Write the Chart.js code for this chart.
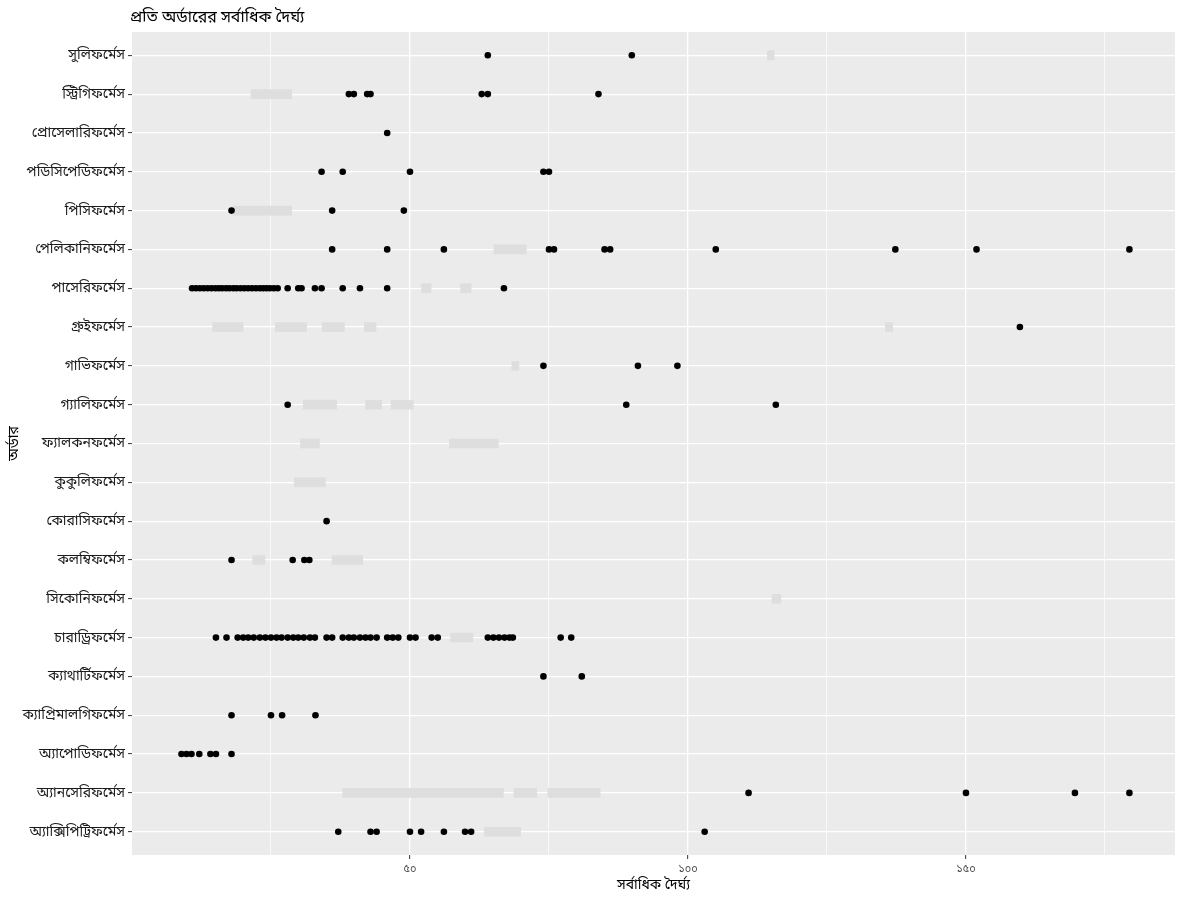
<!DOCTYPE html>
<html>
<head>
<meta charset="utf-8">
<title>প্রতি অর্ডারের সর্বাধিক দৈর্ঘ্য</title>
<script src="https://cdn.jsdelivr.net/npm/chart.js@4.4.1/dist/chart.umd.min.js"></script>
<style>
  html, body { margin: 0; padding: 0; background: #fff; }
  #wrap { width: 1200px; height: 900px; }
</style>
</head>
<body>
<div id="wrap"><canvas id="lengthChart"></canvas></div>
<script>
// ---- data ----
const chartTitle = 'প্রতি অর্ডারের সর্বাধিক দৈর্ঘ্য';
const xTitle = 'সর্বাধিক দৈর্ঘ্য';
const yTitle = 'অর্ডার';

// top to bottom
const orders = [
  'সুলিফর্মেস', 'স্ট্রিগিফর্মেস', 'প্রোসেলারিফর্মেস', 'পডিসিপেডিফর্মেস',
  'পিসিফর্মেস', 'পেলিকানিফর্মেস', 'পাসেরিফর্মেস', 'গ্রুইফর্মেস',
  'গাভিফর্মেস', 'গ্যালিফর্মেস', 'ফ্যালকনফর্মেস', 'কুকুলিফর্মেস',
  'কোরাসিফর্মেস', 'কলম্বিফর্মেস', 'সিকোনিফর্মেস', 'চারাড্রিফর্মেস',
  'ক্যাথার্টিফর্মেস', 'ক্যাপ্রিমালগিফর্মেস', 'অ্যাপোডিফর্মেস',
  'অ্যানসেরিফর্মেস', 'অ্যাক্সিপিট্রিফর্মেস'
];

// max length of each bird, one list per order (same order as above)
const maxLengths = [
  [64.0, 89.9],
  [39.0, 39.9, 42.3, 42.9, 62.9, 64.0, 83.9],
  [45.9],
  [34.1, 37.9, 50.0, 74.0, 75.0],
  [17.9, 36.0, 48.9],
  [36.0, 45.9, 56.1, 75.0, 75.9, 85.0, 86.0, 105.0, 137.3, 151.9, 179.4],
  [10.8, 11.5, 12.2, 12.9, 13.6, 14.3, 15.0, 15.6, 16.2, 16.9, 17.5, 18.2,
   18.8, 19.5, 20.2, 20.9, 21.6, 22.3, 23.0, 23.6, 24.2, 24.8, 25.5, 26.2,
   28.0, 29.9, 30.5, 32.9, 34.1, 37.9, 41.0, 45.9, 66.9],
  [159.7],
  [74.0, 91.0, 98.1],
  [28.0, 88.9, 115.8],
  [],
  [],
  [35.0],
  [17.9, 28.9, 31.0, 31.9],
  [],
  [15.1, 17.0, 19.0, 20.0, 20.9, 21.9, 23.0, 24.0, 25.0, 26.0, 26.9, 28.0,
   29.0, 29.9, 30.9, 32.0, 32.9, 35.0, 36.0, 37.9, 39.0, 39.9, 41.0, 42.0,
   42.9, 44.0, 45.9, 46.9, 47.9, 50.0, 51.0, 53.9, 55.0, 64.0, 65.0, 66.0,
   67.0, 67.9, 68.5, 77.1, 79.0],
  [74.0, 80.9],
  [17.9, 25.0, 27.0, 33.0],
  [8.9, 9.8, 10.7, 12.1, 14.1, 15.1, 17.9],
  [110.9, 150.0, 169.6, 179.4],
  [37.1, 42.9, 44.0, 50.0, 52.0, 56.1, 59.9, 61.0, 103.0]
];

// grey label boxes: [order index, from, to]
const labelBoxes = [
  [0, 114.3, 115.5],
  [1, 21.4, 28.7],
  [4, 18.2, 28.7],
  [5, 65.1, 70.9],
  [6, 52.1, 53.8], [6, 59.1, 61.0],
  [7, 14.5, 20.0], [7, 25.8, 31.4], [7, 34.2, 38.2], [7, 41.8, 43.9], [7, 135.5, 136.8],
  [8, 68.3, 69.6],
  [9, 30.8, 36.8], [9, 42.0, 44.9], [9, 46.6, 50.6],
  [10, 30.3, 33.7], [10, 57.1, 65.9],
  [11, 29.2, 34.8],
  [13, 21.7, 23.9], [13, 36.0, 41.5],
  [14, 115.1, 116.7],
  [15, 57.3, 61.3],
  [19, 37.9, 66.8], [19, 68.7, 72.8], [19, 74.8, 84.2],
  [20, 63.4, 69.9]
];

const xTickValues = [50, 100, 150];
const xTickLabels = ['৫০', '১০০', '১৫০'];

// ---- build datasets ----
const points = [];
maxLengths.forEach((list, i) => {
  list.forEach(v => points.push({ x: v, y: i }));
});
const boxes = labelBoxes.map(b => ({ y: b[0], x: [b[1], b[2]] }));

const fontFamily = "'Noto Sans', 'Noto Sans Bengali', 'DejaVu Sans', sans-serif";

// white page + grey panel like ggplot
const panelBg = {
  id: 'panelBg',
  beforeDraw(chart) {
    const { ctx, chartArea: a } = chart;
    ctx.save();
    ctx.fillStyle = '#ffffff';
    ctx.fillRect(0, 0, chart.width, chart.height);
    ctx.fillStyle = '#ebebeb';
    ctx.fillRect(a.left, a.top, a.right - a.left, a.bottom - a.top);
    ctx.restore();
  }
};

// title sits flush with the panel's left edge
const leftTitle = {
  id: 'leftTitle',
  afterDraw(chart) {
    const { ctx, chartArea: a } = chart;
    ctx.save();
    ctx.font = '16px ' + fontFamily;
    ctx.fillStyle = '#000';
    ctx.textAlign = 'left';
    ctx.textBaseline = 'middle';
    ctx.fillText(chartTitle, a.left - 2, 17);
    ctx.restore();
  }
};

const isMajor = v => xTickValues.indexOf(v) >= 0;
const isRow = v => Number.isInteger(v) && v >= 0 && v < orders.length;

new Chart(document.getElementById('lengthChart'), {
  type: 'scatter',
  data: {
    datasets: [
      {
        type: 'scatter',
        data: points,
        backgroundColor: '#000',
        borderWidth: 0,
        pointRadius: 3.3,
        pointHoverRadius: 3.3,
        order: 1
      },
      {
        type: 'bar',
        indexAxis: 'y',
        data: boxes,
        backgroundColor: '#dedede',
        borderWidth: 0,
        barThickness: 9,
        order: 2
      }
    ]
  },
  options: {
    responsive: true,
    maintainAspectRatio: false,
    animation: false,
    layout: { padding: { top: 32, right: 25, bottom: 0, left: 0 } },
    plugins: {
      legend: { display: false },
      tooltip: { enabled: false }
    },
    scales: {
      x: {
        type: 'linear',
        min: 0,
        max: 187.6,
        offset: false,
        border: { display: false },
        grid: {
          offset: false,
          color: ctx => (ctx.tick && ctx.tick.value > 0 && ctx.tick.value % 25 === 0) ? '#ffffff' : 'rgba(0,0,0,0)',
          lineWidth: ctx => (ctx.tick && isMajor(ctx.tick.value)) ? 1.3 : 0.7,
          tickColor: ctx => (ctx.tick && isMajor(ctx.tick.value)) ? '#333333' : 'rgba(0,0,0,0)',
          tickLength: 4,
          tickWidth: 1
        },
        ticks: {
          stepSize: 25,
          includeBounds: false,
          autoSkip: false,
          maxRotation: 0,
          padding: 3,
          color: '#4d4d4d',
          font: { family: fontFamily, size: 11 },
          callback: v => isMajor(v) ? xTickLabels[xTickValues.indexOf(v)] : ''
        },
        title: {
          display: true,
          text: xTitle,
          color: '#000',
          font: { family: fontFamily, size: 14 },
          padding: { top: 2, bottom: 7 }
        },
        afterFit: scale => { scale.height = 45; }
      },
      y: {
        type: 'linear',
        reverse: true,
        min: -0.6,
        max: 20.6,
        offset: false,
        border: { display: false },
        grid: {
          offset: false,
          color: ctx => (ctx.tick && isRow(ctx.tick.value)) ? '#ffffff' : 'rgba(0,0,0,0)',
          lineWidth: 1.2,
          tickColor: ctx => (ctx.tick && isRow(ctx.tick.value)) ? '#333333' : 'rgba(0,0,0,0)',
          tickLength: 4,
          tickWidth: 1
        },
        ticks: {
          stepSize: 1,
          includeBounds: false,
          autoSkip: false,
          padding: 3,
          color: '#1a1a1a',
          font: { family: fontFamily, size: 14 },
          callback: v => isRow(v) ? orders[v] : ''
        },
        title: {
          display: true,
          text: yTitle,
          color: '#000',
          font: { family: fontFamily, size: 14 },
          padding: { top: 6, bottom: 4 }
        },
        afterFit: scale => { scale.width = 132; }
      }
    }
  },
  plugins: [panelBg, leftTitle]
});
</script>
</body>
</html>
